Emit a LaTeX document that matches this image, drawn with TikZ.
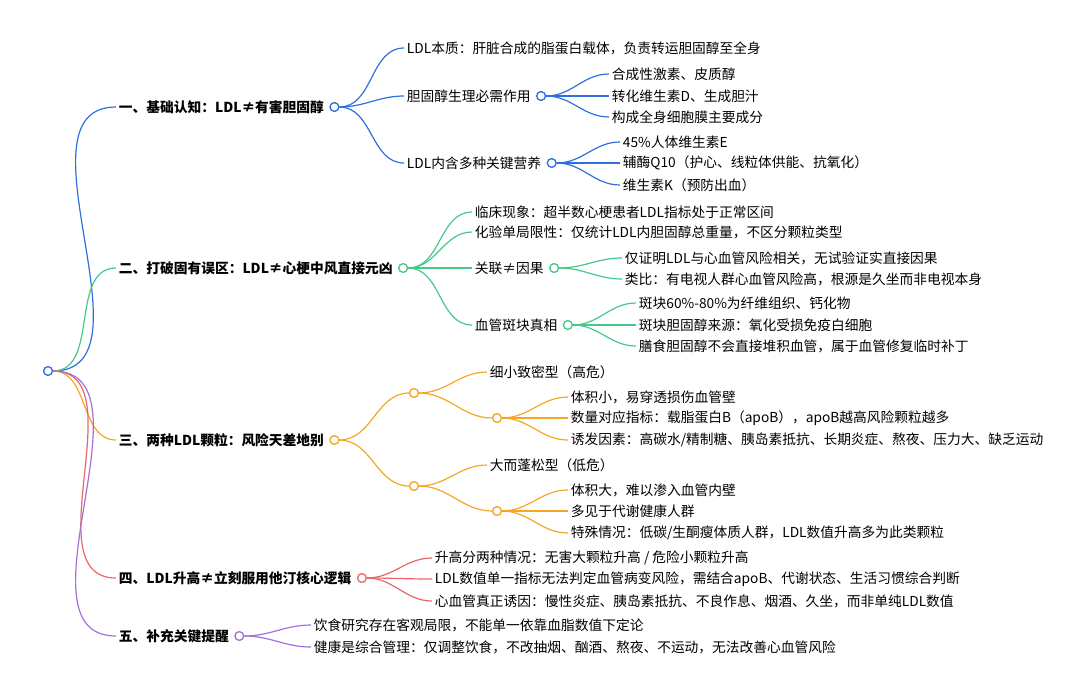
\documentclass[tikz,border=0pt]{standalone}
\usepackage{fontspec}
\setmainfont{Noto Sans CJK SC}
\usetikzlibrary{positioning}
\begin{document}
\begin{tikzpicture}[x=0.75pt,y=-0.75pt,
  every node/.style={font=\fontsize{10.3}{12}\selectfont, inner xsep=2pt, inner ysep=1pt, anchor=west},
  l1/.style={font=\fontsize{10.3}{12}\selectfont\bfseries},
  dot/.style={circle, draw, fill=white, minimum size=6.5pt, inner sep=0pt, line width=0.9pt, anchor=center},
  cb/.style={draw=cB, line width=0.9pt}, cg/.style={draw=cG, line width=0.9pt},
  co/.style={draw=cO, line width=0.9pt}, cr/.style={draw=cR, line width=0.9pt},
  cp/.style={draw=cP, line width=0.9pt},
  e/.style={out=0,in=180}]
\definecolor{cB}{HTML}{2F6FE0}\definecolor{cG}{HTML}{45C98A}
\definecolor{cO}{HTML}{F5A623}\definecolor{cR}{HTML}{E8686A}\definecolor{cP}{HTML}{A56FDD}
\useasboundingbox (0,0) rectangle (1080,696);
\node[dot,draw=cB] (root) at (48,371) {};
% level 1
\node[l1] (A) at (116,107) {一、基础认知：LDL≠有害胆固醇};
\node[l1] (B) at (116,268) {二、打破固有误区：LDL≠心梗中风直接元凶};
\node[l1] (C) at (116,440) {三、两种LDL颗粒：风险天差地别};
\node[l1] (D) at (116,578) {四、LDL升高≠立刻服用他汀核心逻辑};
\node[l1] (E) at (116,636) {五、补充关键提醒};
\draw[cb] (root.east) to[e] (A.west); \draw[cg] (root.east) to[e] (B.west);
\draw[co] (root.east) to[e] (C.west); \draw[cr] (root.east) to[e] (D.west);
\draw[cp] (root.east) to[e] (E.west);
\node[dot,draw=cB,right=2pt of A] (Ad) {};
\node[dot,draw=cG,right=2pt of B] (Bd) {};
\node[dot,draw=cO,right=2pt of C] (Cd) {};
\node[dot,draw=cR,right=2pt of D] (Dd) {};
\node[dot,draw=cP,right=2pt of E] (Ed) {};
\node[dot,draw=cB] at (root) {};
% A
\node (A1) at (404,48) {LDL本质：肝脏合成的脂蛋白载体，负责转运胆固醇至全身};
\node (A2) at (404,96) {胆固醇生理必需作用};
\node (A3) at (404,163) {LDL内含多种关键营养};
\foreach \n in {A1,A2,A3} \draw[cb] (Ad.east) to[e] (\n.west);
\node[dot,draw=cB,right=2pt of A2] (A2d) {};
\node[dot,draw=cB,right=2pt of A3] (A3d) {};
\node (A21) at (609,74) {合成性激素、皮质醇};
\node (A22) at (609,96) {转化维生素D、生成胆汁};
\node (A23) at (609,117) {构成全身细胞膜主要成分};
\foreach \n in {A21,A22,A23} \draw[cb] (A2d.east) to[e] (\n.west);
\node (A31) at (620,142) {45\%人体维生素E};
\node (A32) at (620,163) {辅酶Q10（护心、线粒体供能、抗氧化）};
\node (A33) at (620,185) {维生素K（预防出血）};
\foreach \n in {A31,A32,A33} \draw[cb] (A3d.east) to[e] (\n.west);
% B
\node (B1) at (472,212) {临床现象：超半数心梗患者LDL指标处于正常区间};
\node (B2) at (472,232) {化验单局限性：仅统计LDL内胆固醇总重量，不区分颗粒类型};
\node (B3) at (472,268) {关联≠因果};
\node (B4) at (472,325) {血管斑块真相};
\foreach \n in {B1,B2,B3,B4} \draw[cg] (Bd.east) to[e] (\n.west);
\node[dot,draw=cG,right=2pt of B3] (B3d) {};
\node[dot,draw=cG,right=2pt of B4] (B4d) {};
\node (B31) at (622,258) {仅证明LDL与心血管风险相关，无试验证实直接因果};
\node (B32) at (622,279) {类比：有电视人群心血管风险高，根源是久坐而非电视本身};
\foreach \n in {B31,B32} \draw[cg] (B3d.east) to[e] (\n.west);
\node (B41) at (636,303) {斑块60\%-80\%为纤维组织、钙化物};
\node (B42) at (636,325) {斑块胆固醇来源：氧化受损免疫白细胞};
\node (B43) at (636,346) {膳食胆固醇不会直接堆积血管，属于血管修复临时补丁};
\foreach \n in {B41,B42,B43} \draw[cg] (B4d.east) to[e] (\n.west);
% C
\node[dot,draw=cO] (C1) at (414,393) {};
\node[dot,draw=cO] (C2) at (414,486) {};
\draw[co] (Cd.east) to[e] (C1.west); \draw[co] (Cd.east) to[e] (C2.west);
\node (C11) at (487,372) {细小致密型（高危）};
\node[dot,draw=cO] (C12) at (497,418) {};
\draw[co] (C1.east) to[e] (C11.west); \draw[co] (C1.east) to[e] (C12.west);
\node (C121) at (568,397) {体积小，易穿透损伤血管壁};
\node (C122) at (568,418) {数量对应指标：载脂蛋白B（apoB），apoB越高风险颗粒越多};
\node (C123) at (568,440) {诱发因素：高碳水/精制糖、胰岛素抵抗、长期炎症、熬夜、压力大、缺乏运动};
\foreach \n in {C121,C122,C123} \draw[co] (C12.east) to[e] (\n.west);
\node (C21) at (487,465) {大而蓬松型（低危）};
\node[dot,draw=cO] (C22) at (497,511) {};
\draw[co] (C2.east) to[e] (C21.west); \draw[co] (C2.east) to[e] (C22.west);
\node (C221) at (568,490) {体积大，难以渗入血管内壁};
\node (C222) at (568,511) {多见于代谢健康人群};
\node (C223) at (568,533) {特殊情况：低碳/生酮瘦体质人群，LDL数值升高多为此类颗粒};
\foreach \n in {C221,C222,C223} \draw[co] (C22.east) to[e] (\n.west);
\node[dot,draw=cO] at (C1) {};\node[dot,draw=cO] at (C2) {};
\node[dot,draw=cO] at (C12) {};\node[dot,draw=cO] at (C22) {};
% D
\node (D1) at (432,558) {升高分两种情况：无害大颗粒升高 / 危险小颗粒升高};
\node (D2) at (432,579) {LDL数值单一指标无法判定血管病变风险，需结合apoB、代谢状态、生活习惯综合判断};
\node (D3) at (432,601) {心血管真正诱因：慢性炎症、胰岛素抵抗、不良作息、烟酒、久坐，而非单纯LDL数值};
\foreach \n in {D1,D2,D3} \draw[cr] (Dd.east) to[e] (\n.west);
% E
\node (E1) at (311,625) {饮食研究存在客观局限，不能单一依靠血脂数值下定论};
\node (E2) at (311,647) {健康是综合管理：仅调整饮食，不改抽烟、酗酒、熬夜、不运动，无法改善心血管风险};
\foreach \n in {E1,E2} \draw[cp] (Ed.east) to[e] (\n.west);
\foreach \n/\c in {Ad/cB,Bd/cG,Cd/cO,Dd/cR,Ed/cP,A2d/cB,A3d/cB,B3d/cG,B4d/cG} \node[dot,draw=\c] at (\n) {};
\end{tikzpicture}
\end{document}
